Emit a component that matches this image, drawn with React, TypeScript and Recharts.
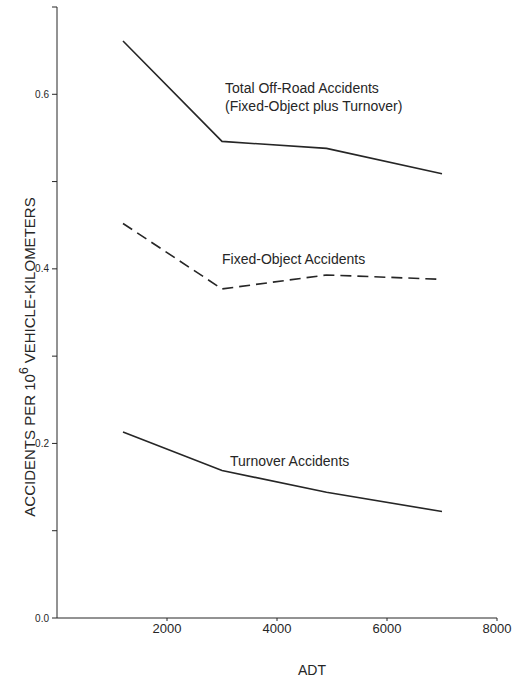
import React from 'react';
import { LineChart, Line, XAxis, YAxis, ReferenceDot } from 'recharts';

// ADT sample points and accident rates (per 10^6 vehicle-km)
const adt = [1200, 3000, 4900, 7000];
const totalOffRoad = [0.661, 0.546, 0.538, 0.509];
const fixedObject = [0.452, 0.377, 0.393, 0.388];
const turnover = [0.213, 0.169, 0.144, 0.122];

const xTicks = [2000, 4000, 6000, 8000];
const yTicks = [0, 0.1, 0.2, 0.3, 0.4, 0.5, 0.6, 0.7];
const yTickLabels = ['0.0', '', '0.2', '', '0.4', '', '0.6', ''];

const notes = [
  { x: 3055, y: 0.602, lines: ['Total Off-Road Accidents', '(Fixed-Object plus Turnover)'] },
  { x: 3000, y: 0.406, lines: ['Fixed-Object Accidents'] },
  { x: 3145, y: 0.174, lines: ['Turnover Accidents'] },
];

const data = adt.map((a, i) => ({
  adt: a,
  total: totalOffRoad[i],
  fixed: fixedObject[i],
  turnover: turnover[i],
}));

const FONT = '"Liberation Sans", Arial, sans-serif';
const INK = '#262626';

export default function App() {
  return (
    <div style={{ position: 'absolute', left: 0, top: 0, background: '#fff' }}>
      <LineChart width={512} height={681} data={data} margin={{ top: 7, right: 15, left: 0, bottom: 0 }}>
        <XAxis
          dataKey="adt"
          type="number"
          domain={[0, 8000]}
          ticks={xTicks}
          height={63}
          tickSize={3}
          tickMargin={3}
          stroke={INK}
          tick={{ fontSize: 13, fill: INK, fontFamily: FONT }}
          label={{
            content: () => (
              <text x={312} y={675} textAnchor="middle" fontSize={14} fill={INK} fontFamily={FONT}>ADT</text>
            ),
          }}
        />
        <YAxis
          type="number"
          domain={[0, 0.7]}
          ticks={yTicks}
          width={57}
          tickSize={5}
          tickMargin={3}
          stroke={INK}
          tick={{ fontSize: 10, fill: INK, fontFamily: FONT }}
          tickFormatter={(v: number, i: number) => yTickLabels[i]}
          label={{
            content: () => (
              <text transform="translate(35,357) rotate(-90)" textAnchor="middle" fontSize={15} fill={INK} fontFamily={FONT}>
                ACCIDENTS PER 10<tspan dy={-7} fontSize={12}>6</tspan>
                <tspan dy={7}> VEHICLE-KILOMETERS</tspan>
              </text>
            ),
          }}
        />
        <Line dataKey="total" stroke={INK} strokeWidth={1.6} dot={false} isAnimationActive={false} />
        <Line dataKey="fixed" stroke={INK} strokeWidth={1.6} strokeDasharray="11 6" dot={false} isAnimationActive={false} />
        <Line dataKey="turnover" stroke={INK} strokeWidth={1.6} dot={false} isAnimationActive={false} />
        {notes.map((n) => (
          <ReferenceDot
            key={n.lines[0]}
            x={n.x}
            y={n.y}
            r={0}
            fill="none"
            stroke="none"
            label={{
              content: (p: any) => {
                const vb = p.viewBox || {};
                return (
                  <text x={vb.x} y={vb.y} fontSize={14} fill={INK} fontFamily={FONT}>
                    {n.lines.map((l, i) => (
                      <tspan key={i} x={vb.x} dy={i === 0 ? 0 : 18}>{l}</tspan>
                    ))}
                  </text>
                );
              },
            }}
          />
        ))}
      </LineChart>
    </div>
  );
}
